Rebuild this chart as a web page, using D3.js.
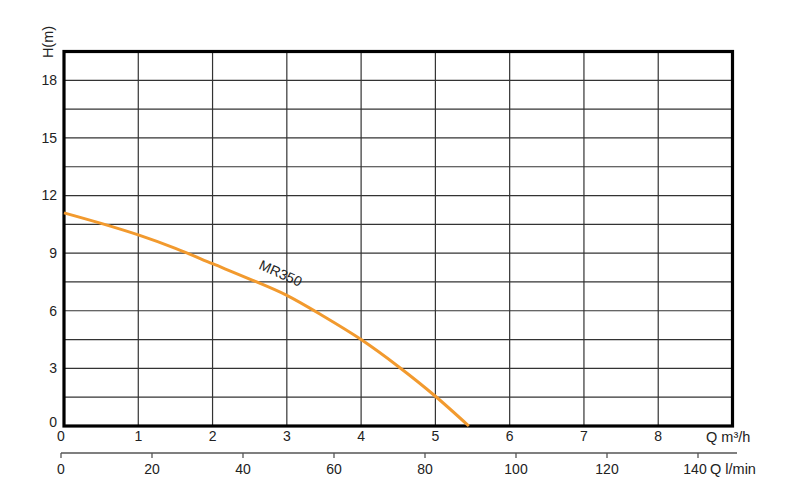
<!DOCTYPE html>
<html>
<head>
<meta charset="utf-8">
<script src="https://cdn.jsdelivr.net/npm/d3@7"></script>
<style>
  body { margin: 0; background: #fff; }
  text { font-family: "Liberation Sans", Arial, sans-serif; fill: #222; }
</style>
</head>
<body>
<script>
(function (d3) {
  "use strict";

  /***** Data *****/
  var flowM3h = [0, 0.5, 1, 1.5, 2, 2.5, 3, 3.5, 4, 4.5, 5, 5.45];
  var headM = [11.1, 10.55, 9.95, 9.25, 8.45, 7.65, 6.8, 5.7, 4.5, 3.1, 1.55, 0];
  var curveName = "MR350";
  var yTicks = [0, 3, 6, 9, 12, 15, 18];
  var xTicks = [0, 1, 2, 3, 4, 5, 6, 7, 8];
  var lminTicks = [0, 20, 40, 60, 80, 100, 120, 140];

  /***** Configuration *****/
  var width = 786, height = 501;
  var plot = { left: 64, top: 51.5, right: 732.5, bottom: 426 };

  /***** Scales *****/
  var x = d3.scaleLinear().domain([0, 9]).range([plot.left, plot.right]);
  var y = d3.scaleLinear().domain([0, 19.5]).range([plot.bottom, plot.top]);
  var xl = d3.scaleLinear().domain([0, 140]).range([61, 698]);

  var svg = d3.select("body").append("svg")
    .attr("width", width)
    .attr("height", height);

  /***** Grid *****/
  var grid = svg.append("g");
  grid.selectAll("line.v")
    .data(d3.range(1, 9))
    .enter().append("line")
    .attr("x1", function (d) { return x(d); })
    .attr("x2", function (d) { return x(d); })
    .attr("y1", plot.top)
    .attr("y2", plot.bottom)
    .attr("stroke", "#333")
    .attr("stroke-width", 1.2);

  grid.selectAll("line.h")
    .data(d3.range(1, 13).map(function (i) { return i * 1.5; }))
    .enter().append("line")
    .attr("x1", plot.left)
    .attr("x2", plot.right)
    .attr("y1", function (d) { return y(d); })
    .attr("y2", function (d) { return y(d); })
    .attr("stroke", "#333")
    .attr("stroke-width", 1.2);

  // frame
  svg.append("rect")
    .attr("x", plot.left)
    .attr("y", plot.top)
    .attr("width", plot.right - plot.left)
    .attr("height", plot.bottom - plot.top)
    .attr("fill", "none")
    .attr("stroke", "#000")
    .attr("stroke-width", 3.2);

  /***** Axes labels *****/
  svg.selectAll("text.ytick")
    .data(yTicks)
    .enter().append("text")
    .attr("x", 57)
    .attr("y", function (d) { return y(d); })
    .attr("dy", d => d === 0 ? "0.1em" : "0.35em")
    .attr("text-anchor", "end")
    .attr("font-size", 14)
    .text(function (d) { return d; });

  svg.selectAll("text.xtick")
    .data(xTicks)
    .enter().append("text")
    .attr("x", function (d) { return d === 0 ? 61 : x(d); })
    .attr("y", 441)
    .attr("text-anchor", "middle")
    .attr("font-size", 14)
    .text(function (d) { return d; });

  svg.append("text")
    .attr("x", 706)
    .attr("y", 442)
    .attr("font-size", 14.5)
    .text("Q m\u00b3/h");

  svg.append("text")
    .attr("transform", "translate(53,42) rotate(-90)")
    .attr("text-anchor", "middle")
    .attr("font-size", 14.5)
    .text("H(m)");

  /***** Secondary axis (l/min) *****/
  var lAxis = svg.append("g");
  lAxis.append("line")
    .attr("x1", 61)
    .attr("x2", 737)
    .attr("y1", 453)
    .attr("y2", 453)
    .attr("stroke", "#555")
    .attr("stroke-width", 1.3);
  lAxis.selectAll("line.tick")
    .data(lminTicks)
    .enter().append("line")
    .attr("x1", function (d) { return xl(d); })
    .attr("x2", function (d) { return xl(d); })
    .attr("y1", 453)
    .attr("y2", 458)
    .attr("stroke", "#555")
    .attr("stroke-width", 1.3);
  lAxis.selectAll("text")
    .data(lminTicks)
    .enter().append("text")
    .attr("x", function (d) { return d === 140 ? xl(d) - 3 : xl(d); })
    .attr("y", 473.5)
    .attr("text-anchor", "middle")
    .attr("font-size", 14)
    .text(function (d) { return d; });
  svg.append("text")
    .attr("x", 710)
    .attr("y", 473.5)
    .attr("font-size", 14.5)
    .text("Q l/min");

  /***** Curve *****/
  var pts = flowM3h.map(function (q, i) { return [q, headM[i]]; });
  var line = d3.line()
    .x(function (d) { return x(d[0]); })
    .y(function (d) { return y(d[1]); })
    .curve(d3.curveMonotoneX);

  svg.append("path")
    .datum(pts)
    .attr("d", line)
    .attr("fill", "none")
    .attr("stroke", "#F29A2E")
    .attr("stroke-width", 3);

  svg.append("text")
    .attr("transform", "translate(" + x(2.89) + "," + y(7.72) + ") rotate(24)")
    .attr("text-anchor", "middle")
    .attr("font-size", 14)
    .text(curveName);

})(d3);
</script>
</body>
</html>
